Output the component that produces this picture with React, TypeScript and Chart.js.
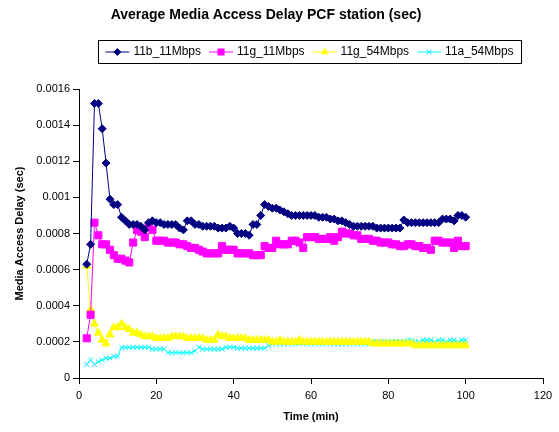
import React, { useEffect, useRef } from "react";
import { Chart, registerables } from "chart.js";

Chart.register(...registerables);

const TITLE = "Average Media Access Delay PCF station (sec)";
const X_TITLE = "Time (min)";
const Y_TITLE = "Media Access Delay (sec)";
const seriesNames = ["11b_11Mbps", "11g_11Mbps", "11g_54Mbps", "11a_54Mbps"];
const xTickLabels = ["0", "20", "40", "60", "80", "100", "120"];
const yTickLabels = ["0", "0.0002", "0.0004", "0.0006", "0.0008", "0.001", "0.0012", "0.0014", "0.0016"];

const times = [
  2, 3, 4, 5, 6, 7, 8, 9, 10,
  11, 12, 13, 14, 15, 16, 17, 18, 19, 20,
  21, 22, 23, 24, 25, 26, 27, 28, 29, 30,
  31, 32, 33, 34, 35, 36, 37, 38, 39, 40,
  41, 42, 43, 44, 45, 46, 47, 48, 49, 50,
  51, 52, 53, 54, 55, 56, 57, 58, 59, 60,
  61, 62, 63, 64, 65, 66, 67, 68, 69, 70,
  71, 72, 73, 74, 75, 76, 77, 78, 79, 80,
  81, 82, 83, 84, 85, 86, 87, 88, 89, 90,
  91, 92, 93, 94, 95, 96, 97, 98, 99, 100,
];

const b11 = [
  0.00063, 0.00074, 0.00152, 0.00152, 0.00138, 0.00119, 0.00099, 0.00096, 0.00096,
  0.00089, 0.00087, 0.00085, 0.00085, 0.00085, 0.00084, 0.00082, 0.00086, 0.00087, 0.00086,
  0.00086, 0.00085, 0.00085, 0.00085, 0.00085, 0.00083, 0.00082, 0.00087, 0.00087, 0.00085,
  0.00085, 0.00084, 0.00084, 0.00084, 0.00084, 0.00083, 0.00083, 0.00083, 0.00084, 0.00083,
  0.0008, 0.0008, 0.0008, 0.00079, 0.00085, 0.00085, 0.0009, 0.00096, 0.00095, 0.00094,
  0.00094, 0.00093, 0.00092, 0.00091, 0.0009, 0.0009, 0.0009, 0.0009, 0.0009, 0.0009,
  0.0009, 0.00089, 0.00089, 0.00089, 0.00088, 0.00088, 0.00087, 0.00087, 0.00086, 0.00085,
  0.00084, 0.00084, 0.00084, 0.00084, 0.00084, 0.00084, 0.00083, 0.00083, 0.00083, 0.00083,
  0.00083, 0.00083, 0.00083, 0.000875, 0.00086, 0.00086, 0.00086, 0.00086, 0.00086, 0.00086,
  0.00086, 0.00086, 0.00086, 0.00088, 0.00088, 0.00088, 0.00087, 0.0009, 0.0009, 0.00089,
];

const g11 = [
  0.00022, 0.00035, 0.00086, 0.00079, 0.00074, 0.00074, 0.00071, 0.00068, 0.00066,
  0.00066, 0.00065, 0.00064, 0.00075, 0.00082, 0.00081, 0.00078, 0.00084, 0.00082, 0.00076,
  0.00076, 0.00076, 0.00075, 0.00075, 0.00075, 0.00074, 0.00074, 0.00073, 0.00072, 0.00072,
  0.00071, 0.0007, 0.00069, 0.00069, 0.00069, 0.00069, 0.00073, 0.00071, 0.00071, 0.00071,
  0.00069, 0.00069, 0.00069, 0.00069, 0.00068, 0.00068, 0.00068, 0.00073, 0.00072, 0.00072,
  0.00076, 0.00074, 0.00074, 0.00074, 0.00076, 0.00076, 0.00075, 0.00072, 0.00078, 0.00078,
  0.00078, 0.00077, 0.00077, 0.00077, 0.00078, 0.00076, 0.00078, 0.00081, 0.0008, 0.0008,
  0.00079, 0.00079, 0.00077, 0.00077, 0.00077, 0.00076, 0.00076, 0.00075, 0.00075, 0.00075,
  0.00074, 0.00074, 0.00073, 0.00073, 0.00074, 0.00074, 0.00073, 0.00073, 0.00072, 0.00072,
  0.00071, 0.00076, 0.00076, 0.00075, 0.00075, 0.00075, 0.00072, 0.00076, 0.00073, 0.00073,
];

const g54 = [
  0.00062, 0.00038, 0.0003, 0.00025, 0.00021, 0.00019, 0.00024, 0.00028, 0.00028,
  0.0003, 0.00028, 0.00027, 0.00025, 0.00025, 0.00024, 0.00023, 0.00023, 0.00023, 0.00022,
  0.00022, 0.00022, 0.00022, 0.00023, 0.00023, 0.00023, 0.00023, 0.00022, 0.00022, 0.00022,
  0.00022, 0.00022, 0.00021, 0.00021, 0.00021, 0.00024, 0.00023, 0.00023, 0.00022, 0.00022,
  0.00022, 0.00022, 0.00022, 0.00021, 0.00021, 0.00021, 0.00021, 0.00021, 0.00021, 0.0002,
  0.0002, 0.00021, 0.0002, 0.0002, 0.0002, 0.0002, 0.00021, 0.0002, 0.0002, 0.0002,
  0.0002, 0.0002, 0.0002, 0.0002, 0.0002, 0.0002, 0.0002, 0.0002, 0.0002, 0.0002,
  0.0002, 0.0002, 0.0002, 0.0002, 0.0002, 0.00019, 0.00019, 0.00019, 0.00019, 0.00019,
  0.00019, 0.00019, 0.00019, 0.00019, 0.00019, 0.00019, 0.00018, 0.00018, 0.00018, 0.00018,
  0.00018, 0.00018, 0.00018, 0.00018, 0.00018, 0.00018, 0.00018, 0.00018, 0.00018, 0.00018,
];

const a54 = [
  0.000075, 0.0001, 0.000075, 0.00009, 0.0001, 0.00011, 0.00011, 0.00012, 0.00012,
  0.00017, 0.00017, 0.00017, 0.00017, 0.00017, 0.00017, 0.00017, 0.00017, 0.00016, 0.00016,
  0.00016, 0.00016, 0.00014, 0.00014, 0.00014, 0.00014, 0.00014, 0.00014, 0.00014, 0.00015,
  0.00017, 0.00016, 0.00016, 0.00016, 0.00016, 0.00016, 0.00016, 0.00017, 0.00017, 0.00017,
  0.000165, 0.000165, 0.000165, 0.000165, 0.000165, 0.000165, 0.000165, 0.000165, 0.00018, 0.00019,
  0.00019, 0.00019, 0.00019, 0.00019, 0.00019, 0.00019, 0.00019, 0.00019, 0.00019, 0.00019,
  0.00019, 0.00019, 0.00019, 0.00019, 0.00019, 0.00019, 0.00019, 0.00019, 0.00019, 0.00019,
  0.00019, 0.00019, 0.00019, 0.00019, 0.00019, 0.0002, 0.0002, 0.0002, 0.0002, 0.0002,
  0.0002, 0.0002, 0.0002, 0.0002, 0.00021, 0.00021, 0.0002, 0.0002, 0.00021, 0.00021,
  0.00021, 0.0002, 0.00021, 0.00021, 0.0002, 0.00021, 0.00021, 0.0002, 0.00021, 0.00021,
];

const seriesData = [b11, g11, g54, a54];
const colors = ["#000080", "#FF00FF", "#FFFF00", "#00FFFF"];
const pointStyles = ["rectRot", "rect", "triangle", "crossRot"];
const pointRadii = [4, 5, 4.5, 3.5];

const FONT = '"Liberation Sans", Arial, sans-serif';

function drawMarker(ctx: CanvasRenderingContext2D, style: string, x: number, y: number, r: number, color: string) {
  ctx.save();
  ctx.fillStyle = color;
  ctx.strokeStyle = color;
  ctx.lineWidth = 1;
  ctx.beginPath();
  if (style === "rectRot") {
    ctx.moveTo(x, y - r);
    ctx.lineTo(x + r, y);
    ctx.lineTo(x, y + r);
    ctx.lineTo(x - r, y);
    ctx.closePath();
    ctx.fill();
  } else if (style === "rect") {
    const s = r * Math.SQRT1_2;
    ctx.rect(x - s, y - s, 2 * s, 2 * s);
    ctx.fill();
  } else if (style === "triangle") {
    for (let k = 0; k < 3; k++) {
      const a = (k * 2 * Math.PI) / 3;
      const px = x + Math.sin(a) * r;
      const py = y - Math.cos(a) * r;
      if (k === 0) ctx.moveTo(px, py);
      else ctx.lineTo(px, py);
    }
    ctx.closePath();
    ctx.fill();
  } else {
    const d = r * Math.SQRT1_2;
    ctx.moveTo(x - d, y - d);
    ctx.lineTo(x + d, y + d);
    ctx.moveTo(x + d, y - d);
    ctx.lineTo(x - d, y + d);
    ctx.stroke();
  }
  ctx.restore();
}

const textPlugin = {
  id: "textPlugin",
  afterDraw(chart: any) {
    const ctx: CanvasRenderingContext2D = chart.ctx;
    const ca = chart.chartArea;
    ctx.save();
    ctx.fillStyle = "#000";
    ctx.textAlign = "center";
    ctx.textBaseline = "middle";
    ctx.font = `bold 14px ${FONT}`;
    ctx.fillText(TITLE, 266, 15);

    ctx.font = `bold 11px ${FONT}`;
    ctx.fillText(X_TITLE, (ca.left + ca.right) / 2, 417);
    ctx.save();
    ctx.translate(20, (ca.top + ca.bottom) / 2);
    ctx.rotate(-Math.PI / 2);
    ctx.fillText(Y_TITLE, 0, 0);
    ctx.restore();

    // legend
    ctx.font = `12px ${FONT}`;
    const lineLen = 24;
    const gapText = 4;
    const gapItem = 8;
    const widths = seriesNames.map((n) => ctx.measureText(n).width);
    const total = widths.reduce((s, w) => s + lineLen + gapText + w, 0) + gapItem * (seriesNames.length - 1);
    const boxLeft = 98;
    const boxRight = 521;
    const boxTop = 40;
    const boxBottom = 63;
    ctx.strokeStyle = "#000";
    ctx.lineWidth = 1;
    ctx.strokeRect(boxLeft + 0.5, boxTop + 0.5, boxRight - boxLeft, boxBottom - boxTop);
    let x = (boxLeft + boxRight) / 2 - total / 2;
    const y = (boxTop + boxBottom) / 2 + 0.5;
    ctx.textAlign = "left";
    seriesNames.forEach((name, i) => {
      ctx.strokeStyle = colors[i];
      ctx.beginPath();
      ctx.moveTo(x, y);
      ctx.lineTo(x + lineLen, y);
      ctx.stroke();
      drawMarker(ctx, pointStyles[i], x + lineLen / 2, y, pointRadii[i], colors[i]);
      ctx.fillStyle = "#000";
      ctx.fillText(name, x + lineLen + gapText, y);
      x += lineLen + gapText + widths[i] + gapItem;
    });
    ctx.restore();
  },
};

export default function App() {
  const canvasRef = useRef<HTMLCanvasElement | null>(null);

  useEffect(() => {
    document.body.style.margin = "0";
    const canvas = canvasRef.current;
    if (!canvas) return;
    const chart = new Chart(canvas, {
      type: "line",
      data: {
        datasets: seriesNames.map((name, i) => ({
          label: name,
          data: times.map((t, k) => ({ x: t, y: seriesData[i][k] })),
          borderColor: colors[i],
          backgroundColor: colors[i],
          borderWidth: 1,
          pointStyle: pointStyles[i] as any,
          pointRadius: pointRadii[i],
          pointBorderWidth: 1,
          pointBorderColor: colors[i],
          pointBackgroundColor: colors[i],
          tension: 0,
        })),
      },
      options: {
        animation: false,
        responsive: false,
        maintainAspectRatio: false,
        layout: { padding: { left: 0, top: 89, right: 16, bottom: 0 } },
        plugins: {
          legend: { display: false },
          title: { display: false },
          tooltip: { enabled: false },
        },
        scales: {
          x: {
            type: "linear",
            min: 0,
            max: 120,
            ticks: {
              stepSize: 20,
              color: "#000",
              font: { size: 11, family: FONT },
              padding: 5,
              maxRotation: 0,
              callback: (_v: any, i: number) => xTickLabels[i],
            },
            grid: { drawOnChartArea: false, drawTicks: true, tickLength: 6, color: "#000" },
            border: { color: "#000", width: 1 },
            afterFit: (scale: any) => {
              scale.height = 54;
            },
          },
          y: {
            type: "linear",
            min: 0,
            max: 0.0016,
            ticks: {
              stepSize: 0.0002,
              color: "#000",
              font: { size: 11, family: FONT },
              padding: 3,
              callback: (_v: any, i: number) => yTickLabels[i],
            },
            grid: { drawOnChartArea: false, drawTicks: true, tickLength: 6, color: "#000" },
            border: { color: "#000", width: 1 },
            afterFit: (scale: any) => {
              scale.width = 79;
            },
          },
        },
      },
      plugins: [textPlugin],
    });
    return () => chart.destroy();
  }, []);

  return (
    <div style={{ width: 559, height: 432, background: "#fff" }}>
      <canvas ref={canvasRef} width={559} height={432} style={{ display: "block" }} />
    </div>
  );
}
